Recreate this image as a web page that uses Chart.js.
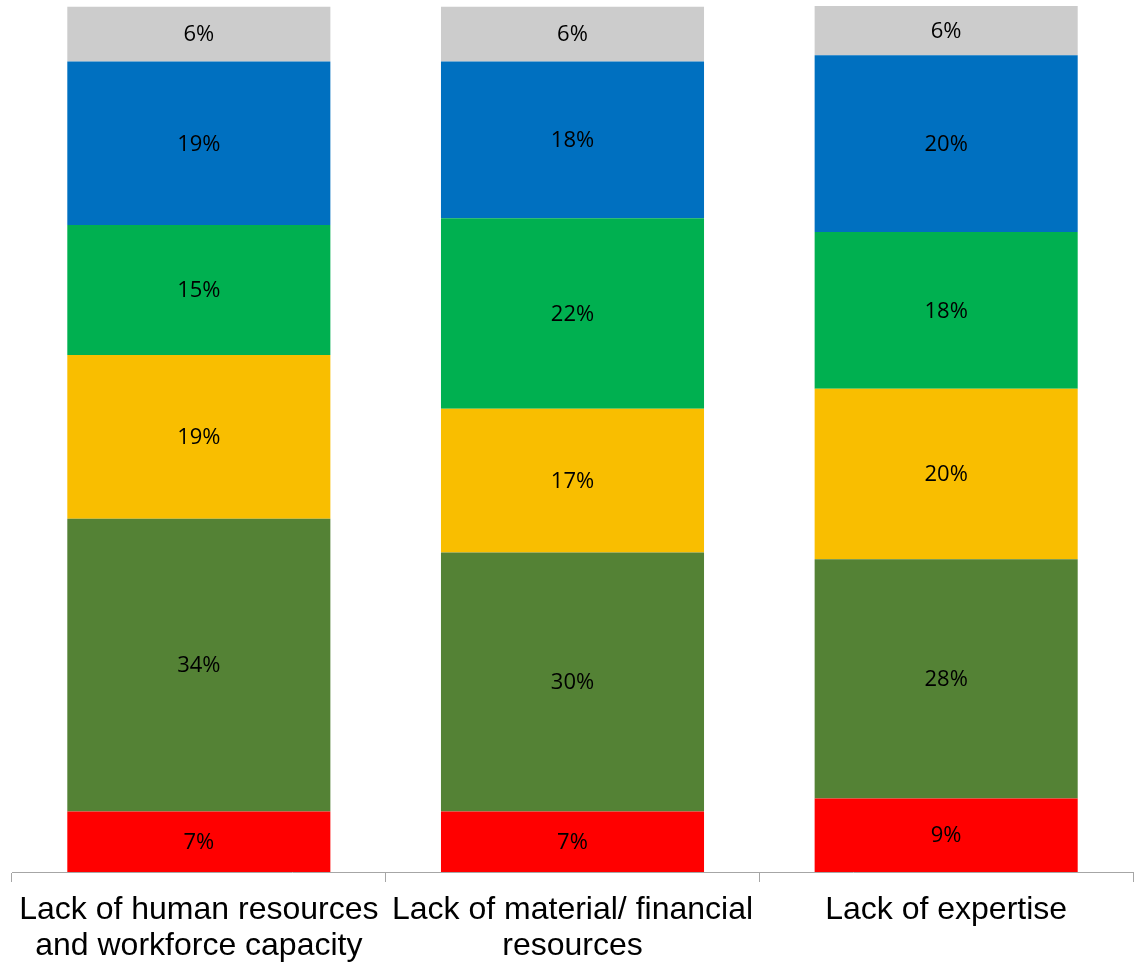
<!DOCTYPE html>
<html>
<head>
<meta charset="utf-8">
<script src="https://cdn.jsdelivr.net/npm/chart.js@4"></script>
<style>
  html, body { margin: 0; padding: 0; background: #fff; }
  #wrap { width: 1140px; height: 966px; }
</style>
</head>
<body>
<div id="wrap"><canvas id="chart"></canvas></div>
<script>
let labels = [
    ['Lack of human resources', 'and workforce capacity'],
    ['Lack of material/ financial', 'resources'],
    'Lack of expertise'
];

// shares in percent, bottom segment first
let redValues = [7.0, 7.0, 8.5];
let darkGreenValues = [33.8, 29.9, 27.6];
let yellowValues = [18.9, 16.6, 19.7];
let greenValues = [15.0, 22.0, 18.1];
let blueValues = [18.9, 18.1, 20.4];
let greyValues = [6.3, 6.3, 5.7];

function series(label, values, color) {
    return {
        label: label,
        data: values,
        backgroundColor: color,
        borderWidth: 0,
        barPercentage: 0.704,
        categoryPercentage: 1.0
    };
}

// draws the percentage in the middle of each segment
const segmentLabels = {
    id: 'segmentLabels',
    afterDatasetsDraw(chart) {
        const ctx = chart.ctx;
        ctx.save();
        ctx.font = '22px "Open Sans", sans-serif';
        ctx.fillStyle = '#000';
        ctx.textAlign = 'center';
        ctx.textBaseline = 'middle';
        chart.data.datasets.forEach((ds, i) => {
            chart.getDatasetMeta(i).data.forEach((bar, j) => {
                const p = bar.getProps(['x', 'y', 'base'], true);
                ctx.fillText(Math.round(ds.data[j]) + '%', p.x, (p.y + p.base) / 2 + 1);
            });
        });
        ctx.restore();
    }
};

const data = {
    labels: labels,
    datasets: [
        series('Red', redValues, '#FF0000'),
        series('Dark green', darkGreenValues, '#548235'),
        series('Yellow', yellowValues, '#F9BE00'),
        series('Green', greenValues, '#00B050'),
        series('Blue', blueValues, '#0070C0'),
        series('Grey', greyValues, '#CCCCCC')
    ]
};

const config = {
    type: 'bar',
    data: data,
    plugins: [segmentLabels],
    options: {
        responsive: true,
        maintainAspectRatio: false,
        animation: false,
        layout: {
            padding: { left: 12, right: 7, top: 6, bottom: 0 }
        },
        plugins: {
            legend: { display: false },
            tooltip: { enabled: false }
        },
        scales: {
            x: {
                stacked: true,
                grid: {
                    offset: true,
                    drawOnChartArea: false,
                    drawTicks: true,
                    tickLength: 10,
                    color: '#A6A6A6'
                },
                border: { display: true, color: '#A6A6A6', width: 1 },
                ticks: {
                    color: '#000',
                    padding: 11,
                    maxRotation: 0,
                    autoSkip: false,
                    font: { family: '"Liberation Sans", Arial, sans-serif', size: 32, lineHeight: 1.1 }
                },
                afterFit(scale) { scale.height = 94; }
            },
            y: {
                stacked: true,
                display: false,
                min: 0,
                max: 100
            }
        }
    }
};

new Chart(document.getElementById('chart'), config);
</script>
</body>
</html>
